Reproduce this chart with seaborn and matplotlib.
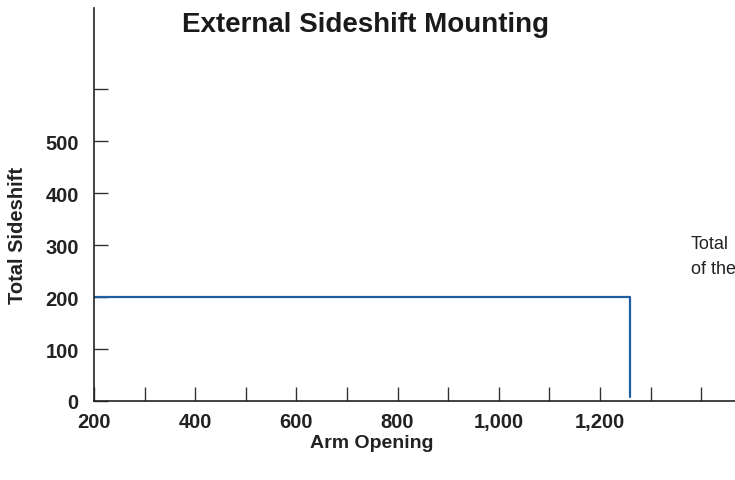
import matplotlib
matplotlib.use("Agg")
import matplotlib.pyplot as plt
import seaborn as sns
import pandas as pd

sns.set_theme(style="ticks")
plt.rcParams['font.family'] = ['Liberation Sans', 'DejaVu Sans']

# Data
arm_opening = [200, 1260, 1260]
total_sideshift = [200, 200, 8]
x_ticks = [200, 300, 400, 500, 600, 700, 800, 900, 1000, 1100, 1200, 1300, 1400]
x_tick_labels = ["200", "", "400", "", "600", "", "800", "", "1,000", "", "1,200", "", ""]
y_ticks = [0, 100, 200, 300, 400, 500, 600]
y_tick_labels = ["0", "100", "200", "300", "400", "500", ""]

df = pd.DataFrame({"Arm Opening": arm_opening, "Total Sideshift": total_sideshift})

fig = plt.figure(figsize=(7.35, 4.81), dpi=100)
ax = fig.add_axes([94/735, 79/481, 1 - 94/735, (402-9)/481])

sns.lineplot(data=df, x="Arm Opening", y="Total Sideshift", sort=False,
             estimator=None, color="#1f5fa0", linewidth=1.6, ax=ax)

ax.set_xlim(200, 1467)
ax.set_ylim(0, 756)
ax.set_xticks(x_ticks)
ax.set_xticklabels(x_tick_labels, fontweight="bold", fontsize=14.5, color="#222222")
ax.set_yticks(y_ticks)
ax.set_yticklabels(y_tick_labels, fontweight="bold", fontsize=14.5, color="#222222")
ax.tick_params(axis="both", direction="in", length=10, width=1, color="#333333")
ax.tick_params(axis="x", pad=8)
ax.tick_params(axis="y", pad=11)

sns.despine(ax=ax, top=True, right=True)
for s in ["left", "bottom"]:
    ax.spines[s].set_color("#222222")
    ax.spines[s].set_linewidth(1.2)

ax.set_xlabel("Arm Opening", fontweight="bold", fontsize=14, color="#222222")
ax.set_ylabel("Total Sideshift", fontweight="bold", fontsize=14.5, color="#222222")
ax.xaxis.set_label_coords((372 - 94) / 641, -(444 - 402) / 393)
ax.yaxis.set_label_coords(-(94 - 18) / 641, (402 - 236) / 393)
ax.xaxis.label.set_va("center")
ax.yaxis.label.set_va("center")

fig.text(366/735, 1 - 25/481, "External Sideshift Mounting", ha="center", va="center",
         fontsize=20, fontweight="bold", color="#1a1a1a")
fig.text(691/735, 1 - 245/481, "Total", ha="left", va="center", fontsize=13, color="#222222")
fig.text(691/735, 1 - 270/481, "of the", ha="left", va="center", fontsize=13, color="#222222")

fig.savefig("out.png", dpi=100)
